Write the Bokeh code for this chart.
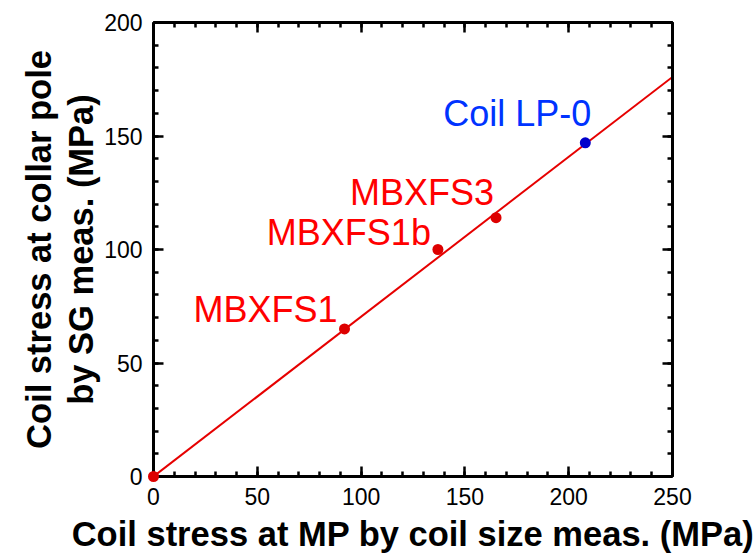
from bokeh.plotting import figure
from bokeh.models import LinearAxis, Range1d, SingleIntervalTicker, FixedTicker, Title
from bokeh.core.properties import value
from bokeh.embed import file_html
from bokeh.resources import INLINE

# data
names = ["", "MBXFS1", "MBXFS1b", "MBXFS3", "Coil LP-0"]
mp_stress = [0, 92, 137, 165, 208]
sg_stress = [0, 65, 100, 114, 147]
fit_x = [0, 250]
fit_y = [0, 176]
x_major = [0, 50, 100, 150, 200, 250]
y_major = [0, 50, 100, 150, 200]
x_minor = list(range(0, 251, 10))
y_minor = list(range(0, 201, 10))

RED = "#E60000"
DOT_RED = "#DD0000"
BLUE = "#0000CC"
FONT = "Liberation Sans"

p = figure(width=756, height=555, output_backend="svg", toolbar_location=None,
           x_range=Range1d(0, 250), y_range=Range1d(0, 200),
           min_border_left=153, min_border_right=84, min_border_top=22,
           min_border_bottom=79, background_fill_color="white",
           border_fill_color="white", outline_line_color=None)
p.grid.visible = False


def base_style(ax):
    ax.axis_line_width = 3
    ax.axis_line_color = "black"
    ax.major_tick_out = 0
    ax.minor_tick_out = 0
    ax.major_tick_line_width = 2.5
    ax.minor_tick_line_width = 2.5
    ax.major_tick_line_color = "black"
    ax.minor_tick_line_color = "black"


xt = SingleIntervalTicker(interval=50, num_minor_ticks=5)
yt = SingleIntervalTicker(interval=50, num_minor_ticks=5)
p.xaxis.ticker = xt
p.yaxis.ticker = yt
for ax in p.xaxis + p.yaxis:
    base_style(ax)
    ax.major_tick_in = 10
    ax.minor_tick_in = 5
    ax.major_label_text_font = FONT
    ax.major_label_text_color = "black"
    ax.major_label_text_font_size = "23px"
    ax.major_label_standoff = 11

p.xaxis.axis_label = "Coil stress at MP by coil size meas. (MPa)"
p.xaxis.axis_label_text_font = FONT
p.xaxis.axis_label_text_font_style = "bold"
p.xaxis.axis_label_text_font_size = "34.5px"
p.xaxis.axis_label_standoff = 7
p.xaxis.axis_label_text_color = "black"

# mirror axes (ticks only, no labels): minor ticks every 10 and longer ones every 50
for side, minors, majors in (("above", x_minor, x_major), ("right", y_minor, y_major)):
    a1 = LinearAxis(ticker=FixedTicker(ticks=[], minor_ticks=minors))
    base_style(a1)
    a1.minor_tick_in = 5
    a1.major_label_standoff = 0
    a2 = LinearAxis(ticker=FixedTicker(ticks=[], minor_ticks=majors))
    base_style(a2)
    a2.minor_tick_in = 10
    a2.major_label_standoff = 0
    p.add_layout(a1, side)
    p.add_layout(a2, side)

t2 = Title(text="by SG meas. (MPa)", align="center", text_font=FONT,
           text_font_style="bold", text_font_size="34.5px", text_color="black",
           standoff=4)
t1 = Title(text="Coil stress at collar pole", align="center", text_font=FONT,
           text_font_style="bold", text_font_size="34.5px", text_color="black",
           standoff=0)
p.add_layout(t2, "left")
p.add_layout(t1, "left")

p.line(fit_x, fit_y, line_color=RED, line_width=2)

colors = [DOT_RED, DOT_RED, DOT_RED, DOT_RED, BLUE]
r = p.scatter(mp_stress, sg_stress, size=11, color=colors, line_color=None)
r.level = "overlay"

label_colors = ["#FF0000", "#FF0000", "#FF0000", "#FF0000", "#0033FF"]
offsets = [(0, 0), (-7, -19), (-7, -17), (-2, -25), (6, -29)]
for i in range(1, 5):
    p.text(x=[mp_stress[i]], y=[sg_stress[i]], text=[names[i]],
           text_align="right", text_baseline="alphabetic",
           x_offset=offsets[i][0], y_offset=offsets[i][1],
           text_font=value(FONT), text_font_size="36px",
           text_color=label_colors[i])

open("out.html", "w").write(file_html(p, INLINE))
